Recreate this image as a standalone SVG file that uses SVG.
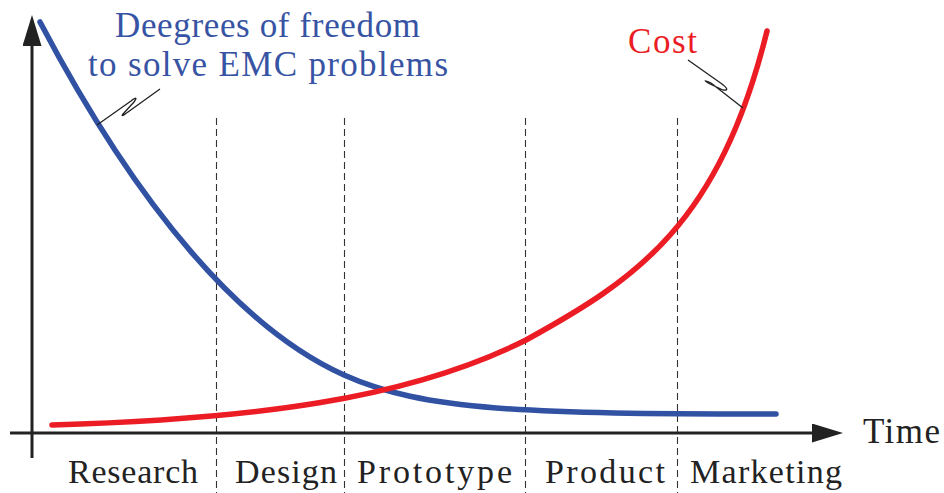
<svg xmlns="http://www.w3.org/2000/svg" width="944" height="493" viewBox="0 0 944 493">
<style>
.axis{stroke:#222;stroke-width:3;fill:none}
.div{stroke:#333;stroke-width:1.1;stroke-dasharray:7 4;fill:none}
.curve{fill:none;stroke-width:5.5;stroke-linecap:round;stroke-linejoin:round}
.pin{fill:none;stroke:#222;stroke-width:1.3;stroke-linejoin:round}
</style>
<defs>
<marker id="arrow" viewBox="0 0 31 19" refX="16" refY="9.5" markerWidth="31" markerHeight="19" markerUnits="userSpaceOnUse" orient="auto">
<path d="M0,0 L31,9.5 L0,19 Z" fill="#222"/>
</marker>
</defs>
<g id="dividers">
<line class="div" x1="216.5" y1="118" x2="216.5" y2="493"/>
<line class="div" x1="344.5" y1="118" x2="344.5" y2="493"/>
<line class="div" x1="525.5" y1="118" x2="525.5" y2="493"/>
<line class="div" x1="677.5" y1="118" x2="677.5" y2="493"/>
</g>
<g id="axes">
<line class="axis" x1="32" y1="458" x2="32" y2="30" marker-end="url(#arrow)"/>
<line class="axis" x1="10" y1="433" x2="828" y2="433" marker-end="url(#arrow)"/>
</g>
<g id="curves">
<path id="freedom-curve" class="curve" stroke="#3152a3" d="M40,22 C140,212 244,330 344,375 C424,411 526,414 776,414"/>
<path id="cost-curve" class="curve" stroke="#ec1c24" d="M52,425 C252,419 406,400 526,340 C637,279 719,224 767,31"/>
</g>
<g id="pins">
<path class="pin" d="M97,125 L131,101 Q139,95 134,102 L123,114 Q120,118 128,112 L160,89"/>
<path class="pin" d="M688,60 L722,84 Q731,91 723,90 L710,84 Q700,78 711,83 L743,108"/>
</g>
<g id="freedom-label" font-family="Liberation Serif" font-size="35" fill="#3753a3">
<text x="115" y="37" textLength="305">Deegrees of freedom</text>
<text x="88" y="76" textLength="360">to solve EMC problems</text>
</g>
<g id="cost-label" font-family="Liberation Serif" font-size="35" fill="#ec1c24">
<text x="628" y="53" textLength="69">Cost</text>
</g>
<g id="time-label" font-family="Liberation Serif" font-size="35" fill="#222">
<text x="863" y="443" textLength="77">Time</text>
</g>
<g id="phases" font-family="Liberation Serif" font-size="34" fill="#222">
<text x="68" y="483" textLength="130">Research</text>
<text x="235" y="483" textLength="102">Design</text>
<text x="357" y="483" textLength="155">Prototype</text>
<text x="545" y="483" textLength="120">Product</text>
<text x="690" y="483" textLength="152">Marketing</text>
</g>
</svg>
